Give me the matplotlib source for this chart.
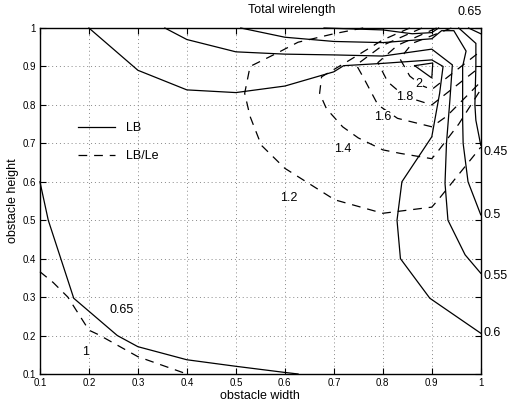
import matplotlib
matplotlib.use("Agg")
import matplotlib.pyplot as plt

plt.rcParams['font.family'] = ['Liberation Sans', 'DejaVu Sans']

# LB contours (solid), x = obstacle width, y = obstacle height
lb_065_low_x = [0.1, 0.117, 0.169, 0.258, 0.3, 0.4, 0.5, 0.6, 0.627]
lb_065_low_y = [0.6, 0.5, 0.297, 0.2, 0.171, 0.137, 0.12, 0.104, 0.1]

lb_060_x = [0.2, 0.3, 0.4, 0.5, 0.6, 0.7, 0.72, 0.8, 0.9, 0.923, 0.916, 0.9, 0.839, 0.829, 0.836, 0.896, 1.0]
lb_060_y = [1.0, 0.89, 0.839, 0.832, 0.849, 0.886, 0.902, 0.908, 0.917, 0.9, 0.83, 0.717, 0.6, 0.5, 0.4, 0.297, 0.206]

lb_055_x = [0.355, 0.4, 0.5, 0.6, 0.7, 0.8, 0.9, 0.942, 0.937, 0.93, 0.927, 0.933, 0.968, 1.0]
lb_055_y = [1.0, 0.97, 0.938, 0.932, 0.93, 0.927, 0.945, 0.904, 0.813, 0.7, 0.596, 0.5, 0.41, 0.362]

lb_050_x = [0.51, 0.6, 0.7, 0.8, 0.9, 0.92, 0.945, 0.97, 0.963, 0.963, 0.964, 0.974, 1.0]
lb_050_y = [1.0, 0.976, 0.965, 0.962, 0.972, 0.993, 0.993, 0.94, 0.9, 0.76, 0.7, 0.6, 0.514]

lb_045_top_x = [0.68, 0.8, 0.86, 0.9, 0.914]
lb_045_top_y = [1.0, 0.995, 0.985, 0.988, 1.0]
lb_045_right_x = [0.955, 0.99, 0.99, 0.988, 0.99, 1.0]
lb_045_right_y = [1.0, 0.96, 0.9, 0.8, 0.76, 0.695]

lb_065_corner_x = [0.975, 1.0]
lb_065_corner_y = [1.0, 0.985]

lb_island_x = [0.865, 0.902, 0.9, 0.865]
lb_island_y = [0.902, 0.909, 0.87, 0.902]

# LB/Le contours (dashed)
le_1_x = [0.1, 0.127, 0.157, 0.2, 0.22, 0.3, 0.4]
le_1_y = [0.366, 0.338, 0.3, 0.214, 0.202, 0.145, 0.1]

le_12_x = [0.76, 0.7, 0.627, 0.583, 0.529, 0.518, 0.529, 0.552, 0.6, 0.702, 0.8, 0.9, 0.913, 1.0]
le_12_y = [1.0, 0.985, 0.963, 0.934, 0.9, 0.83, 0.77, 0.695, 0.635, 0.553, 0.518, 0.534, 0.553, 0.69]

le_14_x = [0.855, 0.8, 0.733, 0.675, 0.671, 0.685, 0.718, 0.75, 0.8, 0.835, 0.9, 0.913, 0.955, 1.0]
le_14_y = [1.0, 0.969, 0.917, 0.873, 0.83, 0.79, 0.743, 0.714, 0.683, 0.674, 0.66, 0.68, 0.75, 0.84]

le_16_x = [0.88, 0.8, 0.746, 0.763, 0.79, 0.83, 0.9, 0.93, 1.0]
le_16_y = [1.0, 0.955, 0.904, 0.865, 0.8, 0.765, 0.743, 0.77, 0.86]

le_18_x = [0.91, 0.83, 0.79, 0.81, 0.845, 0.9, 0.94, 1.0]
le_18_y = [1.0, 0.955, 0.91, 0.86, 0.822, 0.8, 0.84, 0.9]

le_2_x = [0.94, 0.86, 0.835, 0.855, 0.88, 0.9, 0.95, 1.0]
le_2_y = [1.0, 0.96, 0.92, 0.875, 0.85, 0.84, 0.89, 0.94]

# contour labels: (text, x, y)
inline_labels = [("0.65", 0.267, 0.266), ("1", 0.194, 0.158), ("1.2", 0.608, 0.557),
                 ("1.4", 0.718, 0.684), ("1.6", 0.8, 0.769), ("1.8", 0.845, 0.821),
                 ("2", 0.874, 0.854)]
edge_labels = [("0.45", 0.677), ("0.5", 0.513), ("0.55", 0.355), ("0.6", 0.207)]

fig = plt.figure(figsize=(5.12, 4.04), dpi=100)
ax = fig.add_axes([0.078, 0.0743, 0.861, 0.8564])

solid = dict(color='black', lw=0.9, solid_joinstyle='miter')
dashed = dict(color='black', lw=0.9, linestyle=(0, (7, 5.5)))

for xs, ys in [(lb_065_low_x, lb_065_low_y), (lb_060_x, lb_060_y), (lb_055_x, lb_055_y),
               (lb_050_x, lb_050_y), (lb_045_top_x, lb_045_top_y),
               (lb_045_right_x, lb_045_right_y), (lb_065_corner_x, lb_065_corner_y),
               (lb_island_x, lb_island_y)]:
    ax.plot(xs, ys, clip_on=False, **solid)

for xs, ys in [(le_1_x, le_1_y), (le_12_x, le_12_y), (le_14_x, le_14_y),
               (le_16_x, le_16_y), (le_18_x, le_18_y), (le_2_x, le_2_y)]:
    ax.plot(xs, ys, clip_on=False, **dashed)

for txt, x, y in inline_labels:
    ax.text(x, y, txt, ha='center', va='center', fontsize=9, zorder=5,
            bbox=dict(facecolor='white', edgecolor='none', pad=0.5))

for txt, y in edge_labels:
    ax.text(1.005, y, txt, ha='left', va='center', fontsize=9)
ax.text(0.978, 1.042, "0.65", ha='center', va='center', fontsize=9)
ax.text(0.614, 1.047, "Total wirelength", ha='center', va='center', fontsize=9)

# legend
ax.plot([], [], label='LB', **solid)
ax.plot([], [], label='LB/Le', **dashed)
ax.legend(loc='upper left', bbox_to_anchor=(0.06, 0.76), frameon=False, fontsize=9,
          handlelength=3.0, labelspacing=1.25, handletextpad=0.9)

ax.set_xlim(0.1, 1.0)
ax.set_ylim(0.1, 1.0)
ticks = [0.1, 0.2, 0.3, 0.4, 0.5, 0.6, 0.7, 0.8, 0.9, 1.0]
tick_labels = ['0.1', '0.2', '0.3', '0.4', '0.5', '0.6', '0.7', '0.8', '0.9', '1']
ax.set_xticks(ticks)
ax.set_xticklabels(tick_labels)
ax.set_yticks(ticks)
ax.set_yticklabels(tick_labels)
ax.tick_params(direction='in', top=True, right=True, labelsize=7, length=4, pad=3)
ax.grid(True, linestyle=(0, (1, 3)), color='#888888', lw=0.7)
for s in ax.spines.values():
    s.set_linewidth(1.0)

ax.set_xlabel('obstacle width', fontsize=9, labelpad=1)
ax.set_ylabel('obstacle height', fontsize=9, labelpad=2)

fig.savefig('out.png', dpi=100)
